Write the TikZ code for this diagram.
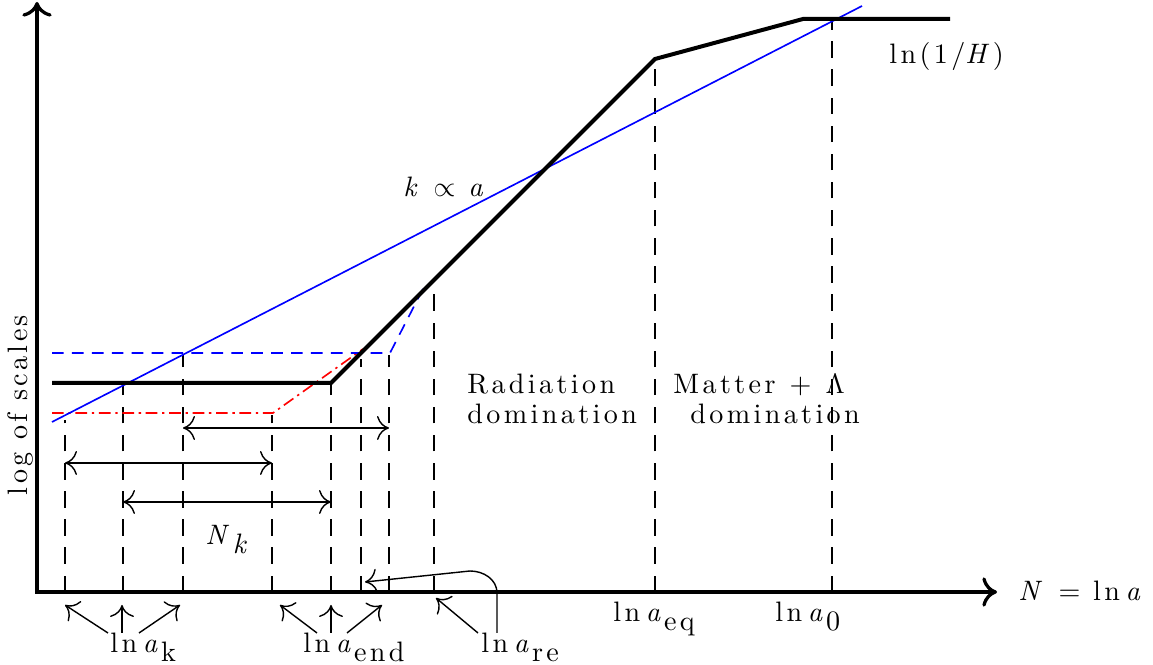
\documentclass[tikz,border=0pt]{standalone}
\usepackage{fontspec}
\setmainfont{lmroman10-regular.otf}[ItalicFont=lmroman10-italic.otf, BoldFont=lmroman10-bold.otf, BoldItalicFont=lmroman10-bolditalic.otf]
\usepackage{amsmath,amssymb}
\usepackage{tikz}
\usetikzlibrary{arrows.meta,positioning,calc}
\newcommand{\weit}{\fontsize{12}{12.6}\selectfont\addfontfeatures{LetterSpace=12}}
\newcommand{\tief}[1]{\raisebox{-3.5pt}{#1}}
\newcommand{\lnsub}[1]{ln\hspace{0.2em}\textit{a}\tief{#1}}
\tikzset{
  achse/.style={line width=1.4pt, {To[length=2.2mm,width=4.4mm]}-{To[length=2.2mm,width=4.4mm]}},
  skala/.style={line width=1.7pt, line join=miter},
  kline/.style={blue, line width=0.7pt},
  hubble/.style={blue, line width=0.7pt, dash pattern=on 5pt off 3.5pt},
  hubblealt/.style={red, line width=0.7pt, dash pattern=on 5pt off 2pt on 1pt off 2pt},
  hilfslinie/.style={line width=0.7pt, dash pattern=on 7pt off 5pt},
  dauer/.style={line width=0.6pt, {To[length=1.8mm,width=3.6mm]}-{To[length=1.8mm,width=3.6mm]}},
  zeiger/.style={line width=0.6pt, -{To[length=1.8mm,width=3.6mm]}},
  lbl/.style={font=\weit, inner sep=0pt, align=left},
  basis/.style={lbl, anchor=base west}
}

\begin{document}
\begin{tikzpicture}[x=0.15mm, y=0.15mm]
\useasboundingbox (0,0) rectangle (1153,665);

% axes
\coordinate (O) at (37,73);
\coordinate (ytop) at (37,663);
\coordinate (xend) at (997,73);
\draw[achse] (ytop) -- (O) -- (xend);

% vertical guides, drawn from the axis upwards
\draw[hilfslinie] (65,73) -- (65,245);
\draw[hilfslinie] (123,73) -- (123,280);
\draw[hilfslinie] (183,73) -- (183,310);
\draw[hilfslinie] (272,73) -- (272,250);
\draw[hilfslinie] (331,73) -- (331,280);
\draw[hilfslinie] (361,73) -- (361,306);
\draw[hilfslinie] (389,73) -- (389,310);
\draw[hilfslinie] (434,73) -- (434,378);
\draw[hilfslinie] (655,73) -- (655,603);
\draw[hilfslinie] (832,73) -- (832,643);

% scales
\draw[hubblealt] (52,252) -- (273,252) -- (363,316);
\draw[hubble] (52,312) -- (390,312) -- (425,380);
\draw[kline] (52,243) -- (862,659);
\draw[skala] (52,282) -- (331,282) -- (655,606) -- (803,646) -- (950,646);

% e-folds
\draw[dauer] (183,237) -- (389,237);
\draw[dauer] (65,202) -- (272,202);
\draw[dauer] (123,163) -- (331,163);
\node[basis] (Nk) at (205,120) {\textit{N}\tief{\textit{k}}};

% labels
\node[basis] (kprop) at (403,468) {\textit{k} $\propto$ \textit{a}};
\node[basis] (invH) at (889,601) {ln(1/\textit{H})};
\node[lbl, anchor=north west] (rad) at (467,291) {Radiation\\domination};
\node[lbl, anchor=north west] (mat) at (673,291) {Matter\hspace{0.5em}+\hspace{0.5em}$\Lambda$\\\hspace{0.6em}domination};
\node[lbl, rotate=90] (ylab) at (20,260) {log of scales};
\node[basis] (xlab) at (1018,64) {\textit{N} = ln\hspace{0.2em}\textit{a}};
\node[basis] (aeq) at (613,43) {\lnsub{eq}};
\node[basis] (anull) at (775,43) {\lnsub{0}};
\node[basis] (ak) at (110,12) {\lnsub{k}};
\node[basis] (aend) at (303,12) {\lnsub{end}};
\node[basis] (are) at (481,12) {\lnsub{re}};

% pointers
\coordinate (k1) at (65,60);
\coordinate (k2) at (122,60);
\coordinate (k3) at (180,60);
\coordinate (e1) at (280,60);
\coordinate (e2) at (331,60);
\coordinate (e3) at (382,60);
\coordinate (r1) at (436,67);
\coordinate (r2) at (365,83);
\coordinate (kt1) at (108,32);
\coordinate (kt2) at (122,32);
\coordinate (kt3) at (139,32);
\coordinate (et1) at (317,32);
\coordinate (et2) at (331,32);
\coordinate (et3) at (347,32);
\coordinate (rt1) at (478,32);
\coordinate (rt2) at (497,32);
\draw[zeiger] (kt1) -- (k1);
\draw[zeiger] (kt2) -- (k2);
\draw[zeiger] (kt3) -- (k3);
\draw[zeiger] (et1) -- (e1);
\draw[zeiger] (et2) -- (e2);
\draw[zeiger] (et3) -- (e3);
\draw[zeiger] (rt1) -- (r1);
\draw[zeiger] (rt2) -- (497,72) to[out=90,in=0] (470,94) -- (r2);

\end{tikzpicture}
\end{document}
